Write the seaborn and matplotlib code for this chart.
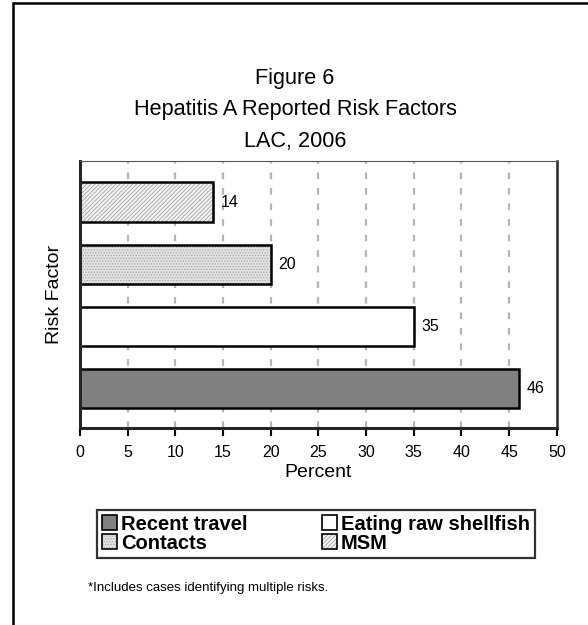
import matplotlib
matplotlib.use("Agg")
import matplotlib.pyplot as plt
import matplotlib.lines as mlines
import matplotlib.patches as mpatches
from matplotlib.legend_handler import HandlerTuple
import seaborn as sns
import pandas as pd

# data (top to bottom)
factors = ["MSM", "Contacts", "Eating raw shellfish", "Recent travel"]
percent = [14, 20, 35, 46]
legend_order = ["Recent travel", "Contacts", "Eating raw shellfish", "MSM"]
xticks = [0, 5, 10, 15, 20, 25, 30, 35, 40, 45, 50]

# bar styles
fills = {"MSM": "#f2f2f2", "Contacts": "#e2e2e2",
         "Eating raw shellfish": "white", "Recent travel": "#808080"}
hatches = {"MSM": "////////", "Contacts": "......",
           "Eating raw shellfish": "", "Recent travel": ""}
hatch_col = "#a8a8a8"

sns.set_theme(style="white")
plt.rcParams["font.family"] = ["Liberation Sans", "DejaVu Sans"]
plt.rcParams["text.color"] = "black"
plt.rcParams["axes.labelcolor"] = "black"
plt.rcParams["xtick.color"] = "black"
plt.rcParams["hatch.linewidth"] = 0.6

df = pd.DataFrame({"factor": factors, "percent": percent})

fig = plt.figure(figsize=(5.88, 6.25), dpi=100)
ax = fig.add_axes([0.136, 0.3152, 0.811, 0.4272])

sns.barplot(data=df, y="factor", x="percent", hue="factor", order=factors,
            hue_order=factors, palette=fills, orient="h", width=0.63,
            edgecolor="black", linewidth=1.8, legend=False, ax=ax, zorder=3)

# light gray hatch on the bar itself, black outline drawn on top
for bar, f in zip(list(ax.patches), factors):
    if not hatches[f]:
        continue
    bar.set_hatch(hatches[f])
    bar.set_edgecolor(hatch_col)
    bar.set_linewidth(0)
    ax.add_patch(mpatches.Rectangle(bar.get_xy(), bar.get_width(), bar.get_height(),
                                    fill=False, edgecolor="black", linewidth=1.8,
                                    zorder=4))

for i, v in enumerate(percent):
    ax.text(v + 0.8, i, str(v), va="center", ha="left", fontsize=11.5)

ax.set_xlim(0, 50)
ax.set_ylim(3.63, -0.66)
ax.set_xticks(xticks)
ax.set_xticklabels([str(t) for t in xticks], fontsize=11.5)
ax.set_yticks([])
ax.tick_params(axis="x", direction="out", length=6, width=1.5, pad=6, bottom=True)
ax.set_xlabel("Percent", fontsize=14, labelpad=3)
ax.set_ylabel("Risk Factor", fontsize=14, labelpad=12)

for x in xticks[1:-1]:
    ax.axvline(x, color="#b5b5b5", linestyle=(0, (3, 4)), linewidth=1.6, zorder=1)

ax.spines["left"].set_linewidth(2.2)
ax.spines["bottom"].set_linewidth(2.2)
ax.spines["right"].set_linewidth(1.8)
ax.spines["top"].set_linewidth(0.8)
ax.spines["top"].set_color("#555555")
for s in ax.spines.values():
    s.set_zorder(5)

# title
fig.text(0.502, 0.875, "Figure 6", ha="center", va="center", fontsize=15.6)
fig.text(0.502, 0.824, "Hepatitis A Reported Risk Factors", ha="center", va="center", fontsize=15.6)
fig.text(0.502, 0.773, "LAC, 2006", ha="center", va="center", fontsize=15.6)

# legend: each key = hatched fill + black outline
handles = []
for f in legend_order:
    fill = mpatches.Patch(facecolor=fills[f], edgecolor=hatch_col, linewidth=0,
                          hatch=hatches[f])
    edge = mpatches.Patch(fill=False, edgecolor="black", linewidth=1.2)
    handles.append((fill, edge))
leg = fig.legend(handles=handles, labels=legend_order, ncol=2, loc="center",
                 handler_map={tuple: HandlerTuple(ndivide=1, pad=0)},
                 bbox_to_anchor=(0.537, 0.146), bbox_transform=fig.transFigure,
                 prop={"weight": "bold", "size": 14.5}, frameon=True,
                 fancybox=False, edgecolor="black", borderpad=0.25,
                 handlelength=0.75, handleheight=0.75, handletextpad=0.2,
                 columnspacing=3.7, labelspacing=0.0)
leg.get_frame().set_linewidth(1.6)

fig.text(0.15, 0.055, "*Includes cases identifying multiple risks.", fontsize=9.5)

# outer frame (left and top edges)
fig.add_artist(mlines.Line2D([0.022, 0.022], [0.0, 0.995], color="black",
                             linewidth=1.8, transform=fig.transFigure))
fig.add_artist(mlines.Line2D([0.022, 1.0], [0.995, 0.995], color="black",
                             linewidth=1.8, transform=fig.transFigure))

fig.savefig("out.png", dpi=100)
